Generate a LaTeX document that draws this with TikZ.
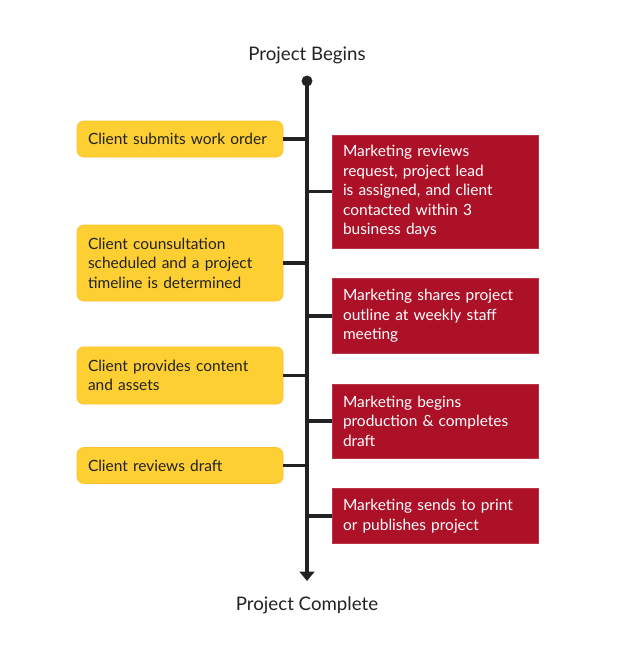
\documentclass[tikz,border=0pt]{standalone}
\usepackage{fontspec}
\setmainfont{Lato}
\usetikzlibrary{arrows.meta,positioning}
\definecolor{clientyellow}{HTML}{FDCF33}
\definecolor{mktred}{HTML}{AD1128}
\definecolor{textgray}{HTML}{222222}

\tikzset{
  clientbox/.style={fill=clientyellow, draw=clientyellow!80!orange, rounded corners=5pt,
    minimum width=154.5pt, text width=138pt, inner sep=8pt, align=left,
    text=textgray, font=\fontsize{11.6}{14.6}\selectfont},
  mktbox/.style={fill=mktred, draw=mktred!85!white, minimum width=154.5pt,
    text width=138pt, inner sep=8pt, align=left, text=white,
    font=\fontsize{11.6}{14.6}\selectfont},
  link/.style={line width=2.8pt, textgray}
}

\begin{document}
\begin{tikzpicture}[x=0.75pt,y=-0.75pt]
      \useasboundingbox (0,0) rectangle (620,661);

      % timeline
      \node[text=textgray, font=\fontsize{14}{16}\selectfont] (begin) at (307,55) {Project Begins};
      \node[text=textgray, font=\fontsize{14}{16}\selectfont] (complete) at (307,605) {Project Complete};
      \coordinate (top) at (307,81);
      \coordinate (bottom) at (307,581);
      \draw[link, -{Triangle[width=11pt,length=7pt]}] (top) -- (bottom);
      \fill[textgray] (top) circle (4.1pt);

      % client side
      \node[clientbox, minimum height=27pt] (c1) at (180,139) {Client submits work order};
      \node[clientbox, minimum height=57pt] (c2) at (180,263) {Client counsultation\\ scheduled and a project\\ timeline is determined};
      \node[clientbox, minimum height=43pt] (c3) at (180,375.5) {Client provides content\\ and assets};
      \node[clientbox, minimum height=27pt] (c4) at (180,465.5) {Client reviews draft};

      % marketing side
      \node[mktbox, minimum height=85pt] (m1) at (435,191.5) {Marketing reviews\\ request, project lead\\ is assigned, and client\\ contacted within 3\\ business days};
      \node[mktbox, minimum height=55.5pt] (m2) at (435,316) {Marketing shares project\\ outline at weekly staff\\ meeting};
      \node[mktbox, minimum height=55.5pt] (m3) at (435,421) {Marketing begins\\ production \& completes\\ draft};
      \node[mktbox, minimum height=40.5pt] (m4) at (435,516) {Marketing sends to print\\ or publishes project};

      \foreach \n in {c1,c2,c3,c4}
        \draw[link] (\n.east) -- (\n.east -| top);
      \foreach \n in {m1,m2,m3,m4}
        \draw[link] (\n.west) -- (\n.west -| top);

    \end{tikzpicture}
\end{document}
